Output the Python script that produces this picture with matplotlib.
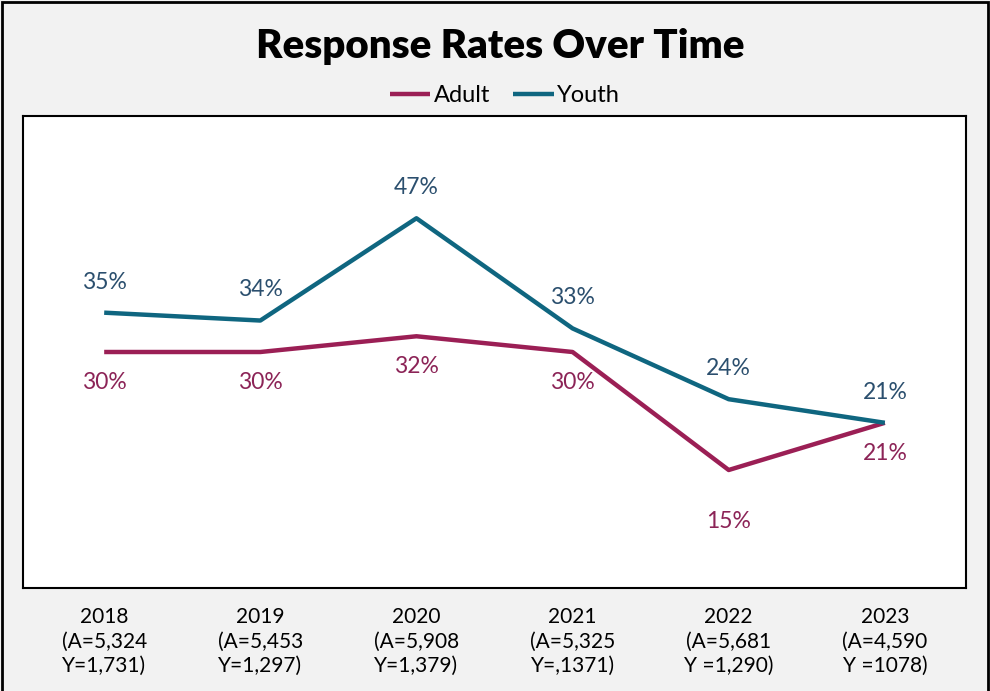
import matplotlib
matplotlib.use("Agg")
import matplotlib.pyplot as plt
from matplotlib.patches import Rectangle

years = ["2018", "2019", "2020", "2021", "2022", "2023"]
adult_n = ["5,324", "5,453", "5,908", "5,325", "5,681", "4,590"]
youth_n = ["Y=1,731", "Y=1,297", "Y=1,379", "Y=,1371", "Y =1,290", "Y =1078"]
adult = [30, 30, 32, 30, 15, 21]
youth = [35, 34, 47, 33, 24, 21]

ADULT_COLOR = "#9b1f55"
YOUTH_COLOR = "#0f6680"
ADULT_TEXT = "#8c2457"
YOUTH_TEXT = "#2b4f6e"
BG = "#f2f2f2"

# label offsets in points (style only)
adult_offsets = [-22, -22, -22, -22, -37, -22]
youth_offsets = [22, 22, 22, 22, 22, 22]

fig = plt.figure(figsize=(9.9, 6.91), dpi=100, facecolor=BG)
ax = fig.add_axes([23 / 990, 1 - 588 / 691, (966 - 23) / 990, (588 - 116) / 691])
ax.set_facecolor("white")

x = list(range(len(years)))
ax.plot(x, adult, color=ADULT_COLOR, lw=3.2, label="Adult", solid_capstyle="butt")
ax.plot(x, youth, color=YOUTH_COLOR, lw=3.2, label="Youth", solid_capstyle="butt")

for i in x:
    ax.annotate(f"{adult[i]}%", (i, adult[i]), xytext=(0, adult_offsets[i]),
                textcoords="offset points", ha="center", va="center",
                fontsize=16.5, color=ADULT_TEXT, family="Lato")
    ax.annotate(f"{youth[i]}%", (i, youth[i]), xytext=(0, youth_offsets[i]),
                textcoords="offset points", ha="center", va="center",
                fontsize=16.5, color=YOUTH_TEXT, family="Lato")

ax.set_xlim(-0.52, 5.52)
ax.set_ylim(0, 60)
ax.set_yticks([])
ax.set_xticks(x)
ax.set_xticklabels([f"{y}\n(A={a}\n{yn})" for y, a, yn in zip(years, adult_n, youth_n)],
                   fontsize=15, family="Lato", linespacing=1.25)
ax.tick_params(axis="x", length=0, pad=14)
for s in ax.spines.values():
    s.set_linewidth(1.5)
    s.set_color("black")

fig.text(0.505, 0.933, "Response Rates Over Time", ha="center", va="center",
         fontsize=29, fontweight="heavy", family="Lato")
fig.legend(loc="center", bbox_to_anchor=(0.51, 0.862), ncol=2, frameon=False,
           handlelength=1.7, handletextpad=0.15, columnspacing=1.0,
           prop={"family": "Lato", "size": 17})

fig.patches.append(Rectangle((0.002, -0.01), 0.996, 1.007, transform=fig.transFigure,
                             fill=False, edgecolor="black", lw=2))

fig.savefig("out.png", dpi=100, facecolor=BG)
